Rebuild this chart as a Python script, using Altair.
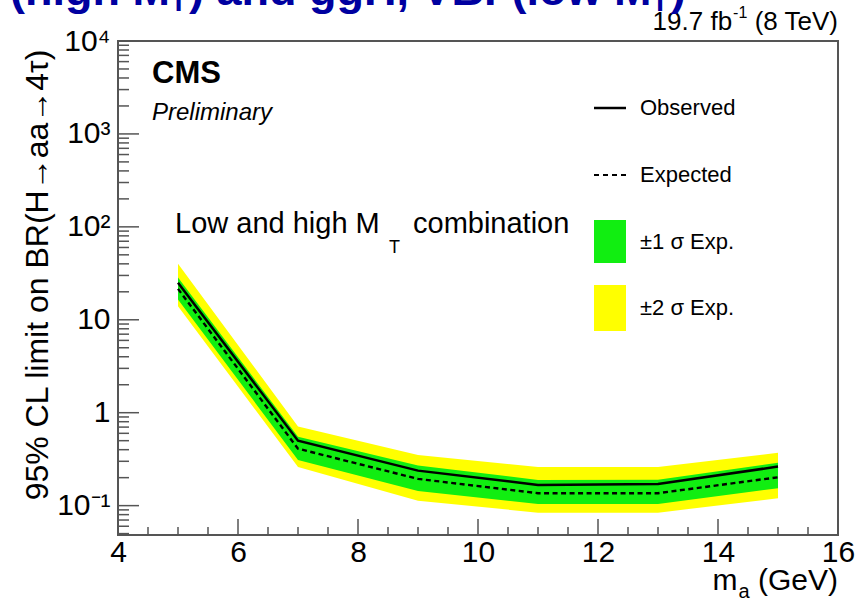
import altair as alt
import pandas as pd

# ---------------- data ----------------
mass = [5, 7, 9, 11, 13, 15]
observed = [25.0, 0.50, 0.238, 0.167, 0.171, 0.263]
expected = [21.5, 0.41, 0.194, 0.136, 0.136, 0.202]
sig1_lo = [16.5, 0.31, 0.144, 0.104, 0.104, 0.154]
sig1_hi = [28.5, 0.55, 0.27, 0.189, 0.19, 0.29]
sig2_lo = [14.0, 0.26, 0.113, 0.084, 0.084, 0.12]
sig2_hi = [40.0, 0.71, 0.35, 0.26, 0.26, 0.37]

x_ticks = [4, 6, 8, 10, 12, 14, 16]
y_ticks = [0.1, 1, 10, 100, 1000, 10000]
y_tick_labels = ["10⁻¹", "1", "10", "10²", "10³", "10⁴"]

FONT = "Liberation Sans"
W, H = 720, 494
GREEN = "#11ee11"
YELLOW = "#ffff00"
FRAME = "#555555"

df = pd.DataFrame({
    "mass": mass, "observed": observed, "expected": expected,
    "s1lo": sig1_lo, "s1hi": sig1_hi, "s2lo": sig2_lo, "s2hi": sig2_hi,
})

xscale = alt.Scale(domain=[4, 16], nice=False, zero=False)
yscale = alt.Scale(type="log", domain=[0.0483, 10000], nice=False)

label_expr = " : ".join(
    f"datum.value == {v} ? '{t}'" for v, t in zip(y_ticks, y_tick_labels)
) + " : ''"

xaxis = alt.Axis(values=x_ticks, title=None, grid=False, ticks=False, domain=False,
                 labelFontSize=30, labelFont=FONT, labelColor="black",
                 labelPadding=2, labelFlush=False)
yaxis = alt.Axis(values=y_ticks, labelExpr=label_expr, title=None, grid=False,
                 ticks=False, domain=False, labelFontSize=30, labelFont=FONT,
                 labelColor="black", labelPadding=8)

X = lambda f: alt.X(f, scale=xscale, axis=xaxis)
Y = lambda f: alt.Y(f, scale=yscale, axis=yaxis)

base = alt.Chart(df)
band2 = base.mark_area(color=YELLOW, opacity=1).encode(x=X("mass:Q"), y=Y("s2lo:Q"), y2="s2hi:Q")
band1 = base.mark_area(color=GREEN, opacity=1).encode(x=X("mass:Q"), y=Y("s1lo:Q"), y2="s1hi:Q")
exp_line = base.mark_line(color="black", strokeWidth=2.4, strokeDash=[5, 3.5]).encode(
    x=X("mass:Q"), y=Y("expected:Q"))
obs_line = base.mark_line(color="black", strokeWidth=2.5).encode(
    x=X("mass:Q"), y=Y("observed:Q"))

# ---------------- inward ticks (ROOT style) ----------------
x_minor = [v / 2 for v in range(9, 32) if v % 4 != 0]
y_minor = [m * 10.0 ** k for k in range(-2, 4) for m in range(2, 10) if 0.0483 < m * 10.0 ** k < 10000]

xt_major = alt.Chart(pd.DataFrame({"v": x_ticks})).mark_rule(color=FRAME, strokeWidth=1.5).encode(
    x=X("v:Q"), y=alt.value(H), y2=alt.value(H - 16))
xt_minor = alt.Chart(pd.DataFrame({"v": x_minor})).mark_rule(color=FRAME, strokeWidth=1.5).encode(
    x=X("v:Q"), y=alt.value(H), y2=alt.value(H - 8))
yt_major = alt.Chart(pd.DataFrame({"v": y_ticks})).mark_rule(color=FRAME, strokeWidth=1.5).encode(
    y=Y("v:Q"), x=alt.value(0), x2=alt.value(21))
yt_minor = alt.Chart(pd.DataFrame({"v": y_minor})).mark_rule(color=FRAME, strokeWidth=1.5).encode(
    y=Y("v:Q"), x=alt.value(0), x2=alt.value(11))

# ---------------- text helpers ----------------
AR = {" ": 278, "(": 333, ")": 333, "a": 556, "b": 556, "c": 500, "d": 556, "e": 556, "f": 278,
      "g": 556, "h": 556, "i": 222, "l": 222, "m": 833, "n": 556, "o": 556, "p": 556, "r": 333,
      "s": 500, "t": 278, "v": 500, "w": 722, "x": 500, "y": 500, "B": 667, "C": 722, "E": 667,
      "F": 611, "G": 778, "H": 722, "L": 556, "M": 833, "T": 611, "V": 667, ",": 278, ".": 278,
      "-": 333, "8": 556, "1": 556, "9": 556, "7": 556}
ARB = {" ": 278, "(": 333, ")": 333, "a": 556, "d": 611, "g": 611, "h": 611, "i": 278, "l": 278,
       "n": 611, "o": 611, "w": 778, "B": 722, "F": 611, "H": 722, "M": 833, "T": 611, "V": 667,
       ",": 278}


def width(s, size, bold=False):
    tab = ARB if bold else AR
    return sum(tab.get(c, 556) for c in s) / 1000.0 * size


def txt(s, x, y, size, align="left", baseline="alphabetic", **kw):
    return alt.Chart(pd.DataFrame({"t": [s]})).mark_text(
        align=align, baseline=baseline, fontSize=size, font=FONT, color=kw.pop("color", "black"), **kw
    ).encode(x=alt.value(x), y=alt.value(y), text="t:N")


texts = []
# y axis title
texts.append(txt("95% CL limit on BR(H→aa→4τ)", -80, 234, 32, align="center",
                 baseline="middle", angle=270))
# x axis title: m_a (GeV)
XT = 30
texts.append(txt("(GeV)", W, 549, XT, align="right"))
a_right = W - width("(GeV)", XT) - width(" ", XT)
texts.append(txt("a", a_right, 557, 20, align="right"))
texts.append(txt("m", a_right - width("a", 20) - 1, 549, XT, align="right"))

# CMS labels
texts.append(txt("CMS", 34, 42, 31, fontWeight="bold"))
texts.append(txt("Preliminary", 34, 79, 24, fontStyle="italic"))

# Low and high M_T combination
texts.append(txt("Low and high M", 57, 192, 29))
texts.append(txt("T", 271, 212, 18))
texts.append(txt("combination", 295, 192, 29))

# luminosity label
lum_r = W
texts.append(txt("(8 TeV)", lum_r, -11, 26, align="right"))
sup_r = lum_r - width("(8 TeV)", 26) - 4
texts.append(txt("-1", sup_r, -23, 16, align="right"))
texts.append(txt("19.7 fb", sup_r - width("-1", 16) - 1, -11, 26, align="right"))

# blue (cut-off) slide title
BLUE = "#0000a0"
TS, SS = 45, 28
bx = 10 - 118
by = 5 - 41
pieces = [("(high M", TS, 0), ("T", SS, 6), (") and ggH, VBF(low M", TS, 0), ("T", SS, 6), (")", TS, 0)]
cx = bx
for s, sz, dy in pieces:
    texts.append(txt(s, cx, by + dy, sz, fontWeight="bold", color=BLUE))
    cx += width(s, sz, bold=True) + (2 if sz == SS else 0)

# ---------------- legend ----------------
one = pd.DataFrame({"a": [0]})
lx0, lx1 = 476, 508
leg = [
    alt.Chart(one).mark_rule(color="black", strokeWidth=2.5).encode(
        x=alt.value(lx0), x2=alt.value(lx1), y=alt.value(67)),
    alt.Chart(one).mark_rule(color="black", strokeWidth=2, strokeDash=[5, 4]).encode(
        x=alt.value(lx0), x2=alt.value(lx1), y=alt.value(134)),
    alt.Chart(one).mark_rect(color=GREEN).encode(
        x=alt.value(lx0), x2=alt.value(lx1), y=alt.value(179), y2=alt.value(222)),
    alt.Chart(one).mark_rect(color=YELLOW).encode(
        x=alt.value(lx0), x2=alt.value(lx1), y=alt.value(244), y2=alt.value(290)),
    txt("Observed", 522, 67, 22, baseline="middle"),
    txt("Expected", 522, 134, 22, baseline="middle"),
    txt("±1 σ Exp.", 522, 201, 22, baseline="middle"),
    txt("±2 σ Exp.", 522, 267, 22, baseline="middle"),
]

chart = alt.layer(
    band2, band1, exp_line, obs_line, xt_major, xt_minor, yt_major, yt_minor, *leg, *texts
).properties(
    width=W, height=H,
    autosize=alt.AutoSizeParams(type="none"),
    padding={"left": 118, "top": 41, "right": 21, "bottom": 67},
    background="white",
).configure_view(stroke=FRAME, strokeWidth=2)

chart.save("out.html", embed_options={"renderer": "svg", "actions": False})
